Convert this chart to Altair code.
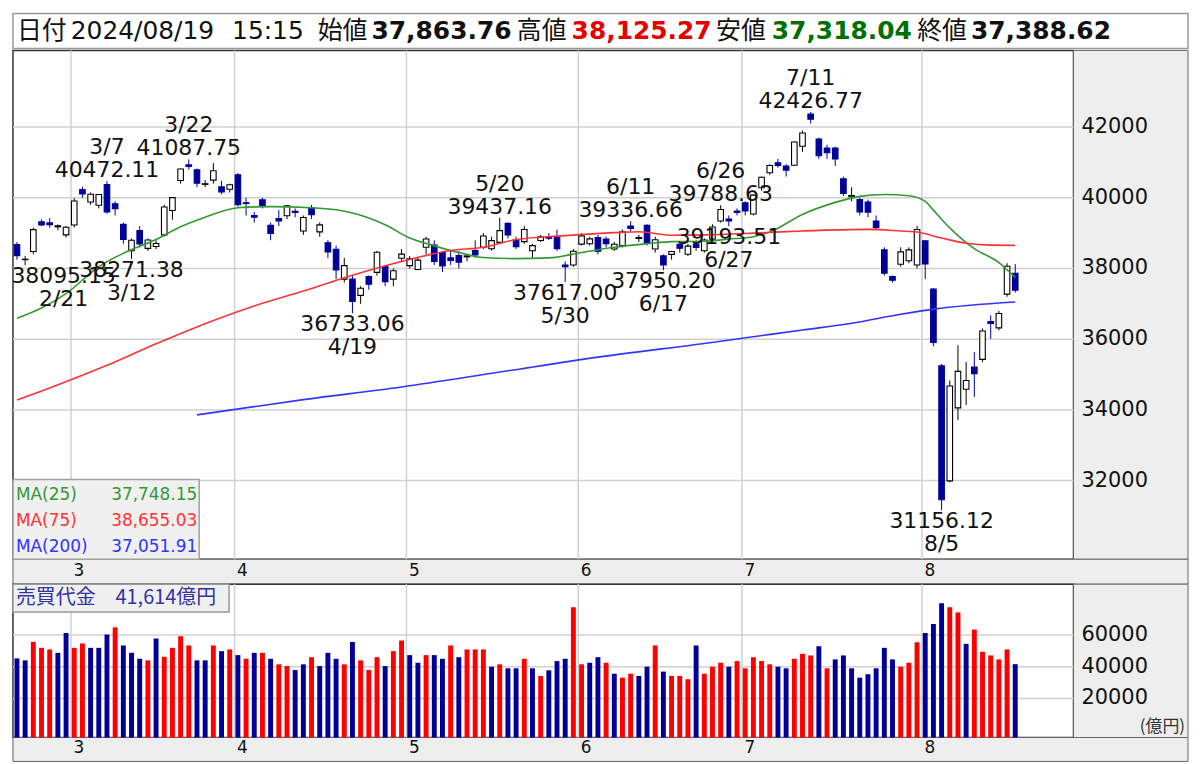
import altair as alt
import pandas as pd

# ---------------- data ----------------
dates = [
    "2/20", "2/21", "2/22", "2/26", "2/27", "2/28", "2/29",
    "3/1", "3/4", "3/5", "3/6", "3/7", "3/8", "3/11", "3/12", "3/13", "3/14", "3/15", "3/18", "3/19", "3/21", "3/22",
    "3/25", "3/26", "3/27", "3/28", "3/29",
    "4/1", "4/2", "4/3", "4/4", "4/5", "4/8", "4/9", "4/10", "4/11", "4/12", "4/15", "4/16", "4/17", "4/18", "4/19",
    "4/22", "4/23", "4/24", "4/25", "4/26", "4/30",
    "5/1", "5/2", "5/7", "5/8", "5/9", "5/10", "5/13", "5/14", "5/15", "5/16", "5/17", "5/20", "5/21", "5/22", "5/23",
    "5/24", "5/27", "5/28", "5/29", "5/30", "5/31",
    "6/3", "6/4", "6/5", "6/6", "6/7", "6/10", "6/11", "6/12", "6/13", "6/14", "6/17", "6/18", "6/19", "6/20", "6/21",
    "6/24", "6/25", "6/26", "6/27", "6/28",
    "7/1", "7/2", "7/3", "7/4", "7/5", "7/8", "7/9", "7/10", "7/11", "7/12", "7/16", "7/17", "7/18", "7/19", "7/22",
    "7/23", "7/24", "7/25", "7/26", "7/29", "7/30", "7/31",
    "8/1", "8/2", "8/5", "8/6", "8/7", "8/8", "8/9", "8/13", "8/14", "8/15", "8/16", "8/19",
]

opens = [
    38680, 38250, 38480, 39320, 39290, 39180, 38950,
    39230, 40230, 39880, 39790, 40375, 39830, 39250, 38500, 39070, 38570, 38620, 38950, 39640, 40490, 40930,
    40790, 40380, 40500, 40310, 40240,
    40650, 39860, 39500, 39944, 39220, 39410, 39490, 39620, 39062, 39718, 39035, 38730, 38544, 37700, 37700,
    37240, 37774, 37890, 38056, 37700, 38290,
    38080, 37970, 38600, 38660, 38451, 38300, 38366, 38330, 38507, 38600, 38560, 38740, 39276, 38811, 38760,
    38500, 38790, 38880, 38873, 38100, 38100,
    38690, 38700, 38873, 38830, 38550, 38650, 39200, 38850, 39220, 38550, 38357, 38400, 38685, 38404, 38685,
    38500, 38830, 39345, 39400, 39625,
    39859, 39540, 40282, 40710, 40990, 40900, 40920, 41456, 42366, 41662, 41408, 41408, 40535, 40030, 39952,
    39882, 39343, 38526, 37774, 38121, 38220, 38100,
    38780, 37417, 35249, 31991, 34056, 34583, 35211, 35430, 36496, 36320, 37276, 37863.76,
]

highs = [
    38750, 38350, 39157, 39390, 39426, 39250, 39200,
    39990, 40314, 40150, 40100, 40472.11, 39900, 39300, 38850, 39200, 38850, 38800, 39800, 40010, 40830, 41087.75,
    40830, 40500, 40980, 40480, 40400,
    40700, 40000, 39600, 40000, 39300, 39650, 39800, 39700, 39500, 39800, 39300, 38800, 38650, 38300, 37800,
    37500, 37800, 38500, 38100, 38000, 38550,
    38350, 38300, 38900, 38800, 38500, 38500, 38500, 38400, 38800, 39000, 38900, 39437.16, 39300, 38900, 39200,
    38700, 38950, 39000, 39100, 38200, 38550,
    39000, 38900, 38950, 38900, 38750, 39100, 39336.66, 38950, 39250, 38900, 38400, 38500, 38700, 38700, 38800,
    38850, 39250, 39788.63, 39500, 39700,
    39900, 40100, 40600, 40950, 41100, 40950, 41600, 41900, 42426.77, 41700, 41500, 41450, 40600, 40300, 40000,
    39950, 39500, 38600, 37800, 38600, 38600, 39200,
    38800, 37450, 35300, 34834, 35830, 35352, 35633, 36300, 36676, 36800, 38150, 38125.27,
]

lows = [
    38250, 38095.15, 38400, 39200, 39150, 39080, 38875,
    39160, 40000, 39800, 39700, 39550, 39500, 38700, 38271.38, 38600, 38500, 38550, 38900, 39380, 40400, 40800,
    40300, 40300, 40400, 40100, 40150,
    39750, 39500, 39300, 39700, 38800, 39200, 39400, 39450, 38950, 39400, 38900, 38300, 37700, 37600, 36733.06,
    37000, 37400, 37800, 37500, 37500, 38200,
    38000, 37950, 38400, 38100, 37900, 38100, 38000, 38200, 38300, 38550, 38500, 38700, 38850, 38550, 38700,
    38300, 38750, 38800, 38500, 37617.00, 38050,
    38650, 38650, 38400, 38600, 38500, 38600, 39050, 38750, 38650, 38450, 37950.20, 38250, 38450, 38350, 38500,
    38450, 38800, 39300, 39193.51, 39500,
    39500, 39500, 40200, 40650, 40850, 40600, 40900, 41300, 42100, 41100, 41100, 40900, 40050, 39900, 39500,
    39450, 39100, 37800, 37600, 38050, 38150, 38000,
    37700, 35800, 31156.12, 31950, 33710, 34140, 34366, 35350, 36009, 36250, 37200, 37318.04,
]

closes = [
    38364, 38262, 39099, 39234, 39240, 39208, 39166,
    39911, 40109, 40098, 40091, 39599, 39689, 38820, 38798, 38696, 38807, 38708, 39740, 40004, 40816, 40888,
    40414, 40398, 40763, 40168, 40369,
    39803, 39839, 39452, 39773, 38992, 39347, 39773, 39582, 39443, 39524, 39233, 38471, 37962, 38080, 37068,
    37439, 37552, 38460, 37628, 37935, 38406,
    38274, 38236, 38835, 38202, 38074, 38229, 38179, 38356, 38386, 38920, 38787, 39070, 38947, 38617, 39103,
    38646, 38900, 38855, 38557, 38054, 38488,
    38923, 38837, 38490, 38704, 38684, 39038, 39135, 38877, 38720, 38815, 38102, 38482, 38571, 38633, 38596,
    38805, 39173, 39667, 39342, 39583,
    39631, 40075, 40581, 40914, 40912, 40781, 41580, 41832, 42224, 41191, 41275, 41098, 40126, 40064, 39599,
    39594, 39155, 37870, 37667, 38469, 38526, 39102,
    38126, 35910, 31458, 34675, 35090, 34831, 35025, 36233, 36442, 36727, 38063, 37388.62,
]
prev_close = 38470  # close of the day before the first candle (sets the first volume colour)

volumes = [  # 売買代金, 億円
    45250, 44000, 55625, 51875, 50875, 48750, 61250,
    51875, 54625, 51875, 51875, 60250, 64800, 53375, 48750, 45000, 44000, 57750, 46250, 51875, 59200, 53375,
    44000, 44000, 53375, 49800, 50875,
    47300, 45000, 48750, 48750, 45000, 41500, 40400, 37900, 41500, 46000, 40400, 48750, 45000, 41500, 55600,
    44000, 37900, 46000, 40400, 49800, 56500,
    47300, 42500, 47300, 47300, 45000, 53375, 46000, 50875, 50875, 50875, 40000, 41500, 39000, 39000, 45000,
    39000, 34200, 37750, 43550, 45000, 77500,
    41500, 42500, 46000, 42500, 35600, 33100, 35600, 34200, 40000, 53375, 36900, 34200, 34200, 32100, 53375,
    35600, 40000, 42500, 40000, 43550,
    39000, 46000, 43550, 41500, 40000, 39000, 45000, 48100, 47100, 52900, 39000, 44600, 47100, 39000, 33100,
    35250, 39000, 51875, 44600, 40000, 42500, 55400,
    61250, 66900, 80000, 77500, 74200, 54400, 63400, 49400, 47100, 44600, 50875, 41614,
]

# moving averages (candle index, value)
ma25_idx = [0, 3, 6, 10, 13, 17, 20, 23, 27, 31, 36, 39, 41, 43, 45, 48, 51, 54, 57, 61, 65, 69, 73, 77, 80,
            84, 87, 90, 92, 96, 100, 103, 106, 109, 111, 112, 114, 117, 120, 122]
ma25_val = [36591, 36880, 37290, 38050, 38430, 38820, 39180, 39450, 39720, 39750, 39720, 39660, 39570, 39430,
            39240, 38860, 38640, 38450, 38310, 38280, 38300, 38450, 38600, 38700, 38760, 38770, 38830, 38900,
            39030, 39530, 39870, 40040, 40093, 40060, 39900, 39650, 39150, 38560, 38169, 37748.15]
ma75_idx = [0, 4, 11, 17, 23, 29, 35, 41, 47, 53, 57, 61, 67, 73, 76, 80, 84, 90, 96, 104, 108, 110, 113, 116,
            119, 122]
ma75_val = [34282, 34620, 35260, 35870, 36440, 36940, 37360, 37810, 38200, 38507, 38600, 38820, 38930, 39014,
            39040, 38940, 38950, 39000, 39062, 39107, 39060, 39030, 38860, 38713, 38660, 38655.03]
ma200_idx = [22, 35, 47, 59, 71, 84, 96, 102, 108, 112, 122]
ma200_val = [33859, 34290, 34648, 35070, 35493, 35880, 36260, 36450, 36704, 36850, 37051.91]

ann_dates = ["2/21", "3/7", "3/12", "3/22", "4/19", "5/20", "5/30", "6/11", "6/17", "6/26", "6/27", "7/11", "8/5"]
ann_kinds = ["low", "high", "low", "high", "low", "high", "low", "high", "low", "high", "low", "high", "low"]

price_ticks = [32000, 34000, 36000, 38000, 40000, 42000]
volume_ticks = [20000, 40000, 60000]
month_names = ["3", "4", "5", "6", "7", "8"]

header_stamp = ["日付", "2024/08/19", "15:15"]
header_fields = ["始値", "高値", "安値", "終値"]
ma_names = ["MA(25)", "MA(75)", "MA(200)"]
turnover_label = "売買代金"
unit_label = "(億円)"

# ---------------- layout / style ----------------
W, H1, H2 = 1065, 511, 154
PANEL, STRIP = 115, 25
X_DOM = [-0.487, 129.12]
P_DOM = [29774, 44169]
V_DOM = [-4581, 91977]
FONT = "DejaVu Sans"
JP = "Noto Sans CJK JP"
BLUE = "#000099"
RED = "#ff0000"
GRID = "#d0d0d0"
MA_COLORS = ["#339933", "#ff3333", "#3333ff"]

xs = alt.Scale(domain=X_DOM, nice=False, zero=False)
ys = alt.Scale(domain=P_DOM, nice=False, zero=False)
vs = alt.Scale(domain=V_DOM, nice=False, zero=False)

n = len(dates)
df = pd.DataFrame({"i": list(range(n)), "date": dates, "o": opens, "h": highs, "l": lows, "c": closes,
                   "vol": volumes})
df["dir"] = ["up" if c >= o else "down" for o, c in zip(opens, closes)]
prevs = [prev_close] + closes[:-1]
df["vdir"] = ["up" if c > p else "down" for c, p in zip(closes, prevs)]
df["xl"] = df["i"] - 0.34
df["xr"] = df["i"] + 0.34
df["vl"] = df["i"] - 0.3
df["vr"] = df["i"] + 0.3

month_first = []
for m in month_names:
    month_first.append(next(k for k, d in enumerate(dates) if d.split("/")[0] == m))
grid_df = pd.DataFrame({"g": [k - 0.4 for k in month_first]})
mlab_df = pd.DataFrame({"mx": [k - 0.1 for k in month_first], "m": month_names})

idx_of = {d: k for k, d in enumerate(dates)}
ann_rows = []
for d, kind in zip(ann_dates, ann_kinds):
    k = idx_of[d]
    v = highs[k] if kind == "high" else lows[k]
    ann_rows.append({"xi": max(k, 5.7), "v": v, "vt": f"{v:.2f}", "d": d, "kind": kind})
ann_df = pd.DataFrame(ann_rows)

ptick_df = pd.DataFrame({"v": price_ticks, "t": [str(v) for v in price_ticks]})
vtick_df = pd.DataFrame({"v": volume_ticks, "t": [str(v) for v in volume_ticks]})


def one():
    return pd.DataFrame({"k": [0]})


def box(x1, x2, y1, y2, fill, stroke="#666666", sw=1.0):
    return alt.Chart(one()).mark_rect(fill=fill, stroke=stroke, strokeWidth=sw).encode(
        x=alt.value(x1), x2=alt.value(x2), y=alt.value(y1), y2=alt.value(y2))


def txt(text, x, y, size, color="#000000", font=FONT, weight="normal", align="left", baseline="middle"):
    return alt.Chart(pd.DataFrame({"t": [text]})).mark_text(
        align=align, baseline=baseline, fontSize=size, font=font, fontWeight=weight, color=color
    ).encode(x=alt.value(x), y=alt.value(y), text="t:N")


up = alt.datum.dir == "up"
vup = alt.datum.vdir == "up"

# ---------------- price panel ----------------
layers = []
layers.append(box(W, W + PANEL, 0, H1, "#eeeeee"))
layers.append(box(0, W + PANEL, H1, H1 + STRIP, "#eeeeee"))
layers.append(alt.Chart(ptick_df).mark_rule(color=GRID, strokeWidth=1.5).encode(
    y=alt.Y("v:Q", scale=ys, axis=None)))
layers.append(alt.Chart(grid_df).mark_rule(color=GRID, strokeWidth=1.5).encode(
    x=alt.X("g:Q", scale=xs, axis=None)))
layers.append(alt.Chart(ptick_df).mark_text(align="left", baseline="middle", fontSize=21, font=FONT,
                                            color="#111111").encode(
    x=alt.value(W + 8), y=alt.Y("v:Q", scale=ys, axis=None), text="t:N"))

base = alt.Chart(df)
layers.append(base.mark_rule(strokeWidth=1).encode(
    x=alt.X("i:Q", scale=xs, axis=None),
    y=alt.Y("l:Q", scale=ys, axis=None), y2="h:Q",
    color=alt.condition(up, alt.value("#000000"), alt.value(BLUE))))
layers.append(base.mark_rect(strokeWidth=1.1).encode(
    x=alt.X("xl:Q", scale=xs, axis=None), x2="xr:Q",
    y=alt.Y("o:Q", scale=ys, axis=None), y2="c:Q",
    fill=alt.condition(up, alt.value("#ffffff"), alt.value(BLUE)),
    stroke=alt.condition(up, alt.value("#000000"), alt.value(BLUE))))

for ii, vv, col in zip([ma25_idx, ma75_idx, ma200_idx], [ma25_val, ma75_val, ma200_val], MA_COLORS):
    layers.append(alt.Chart(pd.DataFrame({"i": ii, "v": vv})).mark_line(
        strokeWidth=1.6, interpolate="monotone", color=col).encode(
        x=alt.X("i:Q", scale=xs, axis=None), y=alt.Y("v:Q", scale=ys, axis=None)))

hi = alt.Chart(ann_df).transform_filter(alt.datum.kind == "high")
lo = alt.Chart(ann_df).transform_filter(alt.datum.kind == "low")
enc = dict(x=alt.X("xi:Q", scale=xs, axis=None), y=alt.Y("v:Q", scale=ys, axis=None))
layers.append(hi.mark_text(baseline="bottom", dy=1, fontSize=22, font=FONT, color="#111111").encode(
    text="vt:N", **enc))
layers.append(hi.mark_text(baseline="bottom", dy=-22, fontSize=22, font=FONT, color="#111111").encode(
    text="d:N", **enc))
layers.append(lo.mark_text(baseline="top", dy=1, fontSize=22, font=FONT, color="#111111").encode(
    text="vt:N", **enc))
layers.append(lo.mark_text(baseline="top", dy=24, fontSize=22, font=FONT, color="#111111").encode(
    text="d:N", **enc))

# MA legend
layers.append(box(0, 187, 431, H1, "#f0f0f0", "#a0a0a0", 1.5))
for r, (name, col) in enumerate(zip(ma_names, MA_COLORS)):
    last = [ma25_val, ma75_val, ma200_val][r][-1]
    layers.append(txt(name, 3, 446 + r * 26.5, 17, col))
    layers.append(txt(f"{last:,.2f}", 185, 446 + r * 26.5, 17, col, align="right"))

# month labels
layers.append(alt.Chart(mlab_df).mark_text(align="left", baseline="middle", fontSize=17, font=FONT,
                                           color="#111111").encode(
    x=alt.X("mx:Q", scale=xs, axis=None), y=alt.value(H1 + 12), text="m:N"))

# header
layers.append(box(0, W + PANEL, -37, -2, "#ffffff", "#999999", 1.5))
last_vals = [opens[-1], highs[-1], lows[-1], closes[-1]]
val_colors = ["#111111", "#e60000", "#007000", "#111111"]
HY = -19.5
layers.append(txt(header_stamp[0], 4, HY, 25, "#111111", JP))
layers.append(txt(header_stamp[1], 58, HY, 25, "#111111"))
layers.append(txt(header_stamp[2], 220, HY, 25, "#111111"))
field_x = [306, 506, 706, 908]
value_x = [360, 561, 762, 962]
for f, v, c, fx, vx in zip(header_fields, last_vals, val_colors, field_x, value_x):
    layers.append(txt(f, fx, HY, 25, "#111111", JP))
    layers.append(txt(f"{v:,.2f}", vx, HY, 25, c, FONT, "bold"))

price = alt.layer(*layers).properties(width=W, height=H1)

# ---------------- turnover panel ----------------
vl = []
vl.append(box(W, W + PANEL, 0, H2, "#eeeeee"))
vl.append(box(0, W + PANEL, H2, H2 + 24, "#eeeeee"))
vl.append(alt.Chart(vtick_df).mark_rule(color=GRID, strokeWidth=1.5).encode(
    y=alt.Y("v:Q", scale=vs, axis=None)))
vl.append(alt.Chart(grid_df).mark_rule(color=GRID, strokeWidth=1.5).encode(
    x=alt.X("g:Q", scale=xs, axis=None)))
vl.append(alt.Chart(vtick_df).mark_text(align="left", baseline="middle", fontSize=21, font=FONT,
                                        color="#111111").encode(
    x=alt.value(W + 8), y=alt.Y("v:Q", scale=vs, axis=None), text="t:N"))
vl.append(base.mark_rect().encode(
    x=alt.X("vl:Q", scale=xs, axis=None), x2="vr:Q",
    y=alt.Y("vol:Q", scale=vs, axis=None), y2=alt.value(H2),
    fill=alt.condition(vup, alt.value(RED), alt.value(BLUE))))
vl.append(box(0, 217, 0, 28, "#f0f0f0", "#999999", 1.5))
vl.append(txt(f"{turnover_label}\u3000{volumes[-1]:,}億円", 3, 14, 20, "#3333a0", JP))
vl.append(txt(unit_label, W + PANEL - 3, 143, 17, "#333333", JP, align="right"))
vl.append(alt.Chart(mlab_df).mark_text(align="left", baseline="middle", fontSize=17, font=FONT,
                                       color="#111111").encode(
    x=alt.X("mx:Q", scale=xs, axis=None), y=alt.value(H2 + 11), text="m:N"))
turnover = alt.layer(*vl).properties(width=W, height=H2)

chart = alt.vconcat(price, turnover, spacing=25, bounds="flush").properties(
    padding={"left": 2, "top": 2, "right": 2, "bottom": 0}, background="white"
).configure_view(stroke="#333333", strokeWidth=1.5)

chart.save("out.html", embed_options={"renderer": "svg", "actions": False})
